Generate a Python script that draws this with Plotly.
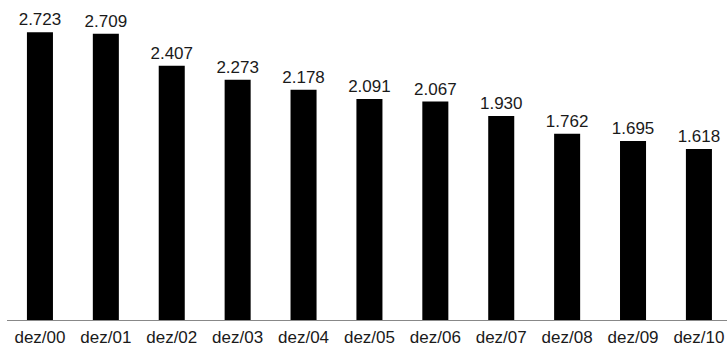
import plotly.graph_objects as go

categories = ["dez/00", "dez/01", "dez/02", "dez/03", "dez/04", "dez/05",
              "dez/06", "dez/07", "dez/08", "dez/09", "dez/10"]
values = [2.723, 2.709, 2.407, 2.273, 2.178, 2.091, 2.067, 1.930, 1.762, 1.695, 1.618]
value_labels = ["2.723", "2.709", "2.407", "2.273", "2.178", "2.091",
                "2.067", "1.930", "1.762", "1.695", "1.618"]

fig = go.Figure(go.Bar(
    x=categories,
    y=values,
    text=value_labels,
    textposition="outside",
    constraintext="none",
    textfont=dict(size=17, color="#1a1a1a", family="Liberation Sans, Arial, sans-serif"),
    marker=dict(color="#000000", line=dict(width=0)),
    cliponaxis=False,
    hoverinfo="skip",
))

fig.update_layout(
    width=727, height=347,
    margin=dict(l=7, r=0, t=3, b=27, autoexpand=False),
    paper_bgcolor="white", plot_bgcolor="white",
    bargap=0.605,
    showlegend=False,
    font=dict(family="Liberation Sans, Arial, sans-serif", size=17, color="#1a1a1a"),
    xaxis=dict(
        range=[-0.5, 10.426],
        showline=True, linecolor="#888888", linewidth=1,
        showgrid=False, zeroline=False, ticks="",
        tickfont=dict(size=17, color="#1a1a1a"),
        ticklabelstandoff=2,
        automargin=False,
    ),
    yaxis=dict(range=[0, 3.0], visible=False, showgrid=False, zeroline=False),
)

fig.write_html(
    "out.html",
    config={"displayModeBar": False, "staticPlot": True},
    post_script="document.body.style.margin='0';document.body.style.overflow='hidden';",
)
